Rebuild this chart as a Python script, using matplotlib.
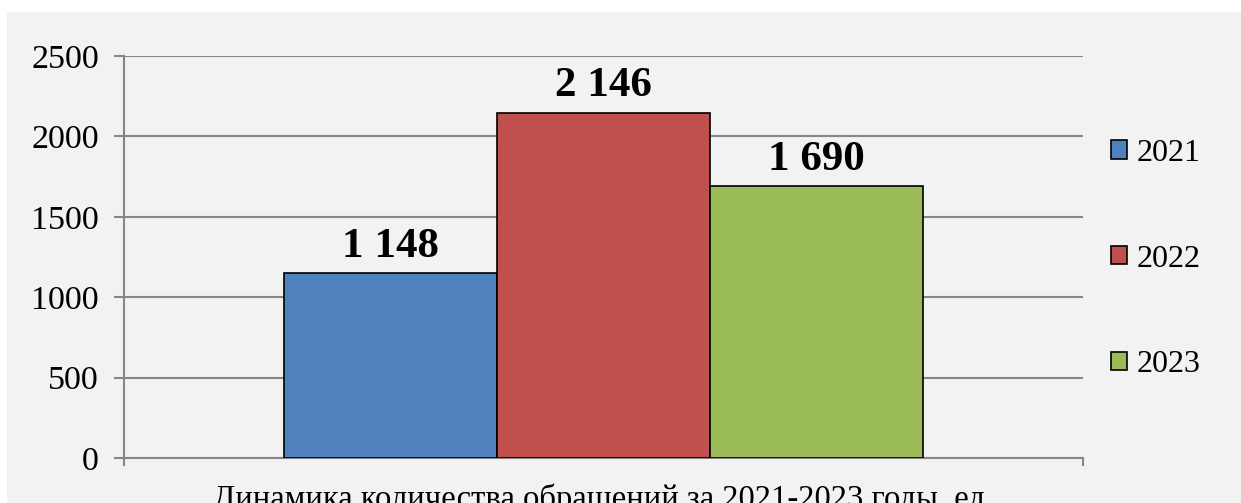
import matplotlib
matplotlib.use("Agg")
import matplotlib.pyplot as plt
from matplotlib.patches import Rectangle

years = ["2021", "2022", "2023"]
values = [1148, 2146, 1690]
colors = ["#4f81bd", "#c0504d", "#9bbb59"]
xlabel = "Динамика количества обращений за 2021-2023 годы, ед."
yticks = [0, 500, 1000, 1500, 2000, 2500]

plt.rcParams["font.family"] = ["Liberation Serif", "DejaVu Serif"]

fig = plt.figure(figsize=(12.41, 5.03), dpi=100)
fig.patches.append(Rectangle((7 / 1241, 0), 1, 1 - 12 / 503, transform=fig.transFigure,
                             facecolor="#f2f2f2", edgecolor="none", zorder=-10))

ax = fig.add_axes([124 / 1241, 1 - 458 / 503, (1083 - 124) / 1241, (458 - 56) / 503])
ax.set_facecolor("#f2f2f2")

w = 0.6667 / 3
for i, (yr, v, c) in enumerate(zip(years, values, colors)):
    x = (i - 1) * w
    ax.bar(x, v, width=w, color=c, edgecolor="black", linewidth=1.2, label=yr, zorder=3)
    ax.annotate(f"{v:,}".replace(",", " "), (x, v), xytext=(0, 5.5), textcoords="offset points",
                ha="center", va="bottom", fontsize=31, fontweight="bold")

ax.set_xlim(-0.5, 0.5)
ax.set_ylim(0, 2500)
ax.set_yticks(yticks)
ax.set_xticks([-0.5, 0.5])
ax.set_xticklabels([])
ax.yaxis.grid(True, color="#868686", linewidth=1.5, zorder=0)
for s in ["top", "right"]:
    ax.spines[s].set_visible(False)
for s in ["left", "bottom"]:
    ax.spines[s].set_color("#868686")
    ax.spines[s].set_linewidth(1.5)
ax.tick_params(axis="y", length=7, width=1.5, color="#868686", labelsize=24.5, pad=11)
ax.tick_params(axis="x", length=6, width=1.5, color="#868686")
ax.set_xlabel(xlabel, fontsize=23.5, labelpad=9)

ax.legend(loc="center left", bbox_to_anchor=(0.999, 0.495), frameon=False, fontsize=23,
          handlelength=0.5, handleheight=0.5, handletextpad=0.3, labelspacing=2.4)

fig.savefig("out.png", dpi=100)
